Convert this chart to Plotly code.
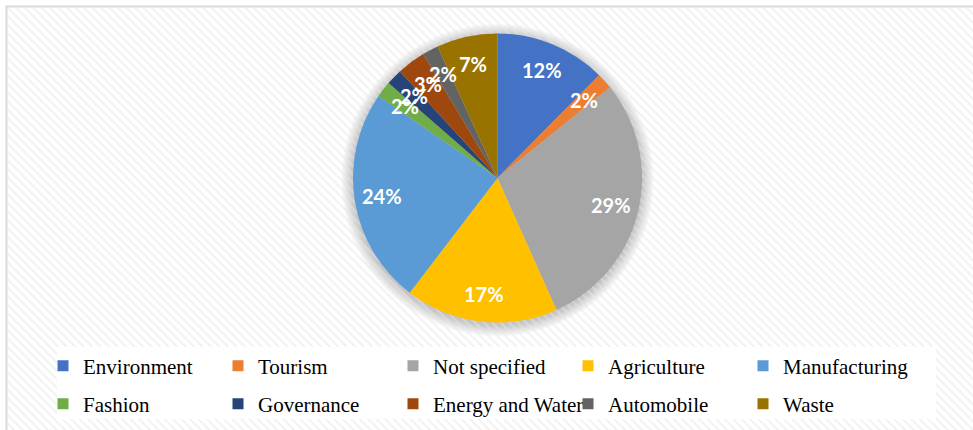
import math
import plotly.graph_objects as go

# ---- data ----
categories = ["Environment", "Tourism", "Not specified", "Agriculture", "Manufacturing",
              "Fashion", "Governance", "Energy and Water", "Automobile", "Waste"]
shares = [12.4, 1.8, 29.1, 17.1, 24.2, 1.8, 1.8, 3.2, 1.8, 6.8]
colors = ["#4472C4", "#ED7D31", "#A5A5A5", "#FFC000", "#5B9BD5",
          "#70AD47", "#264478", "#9E480E", "#636363", "#997300"]

W, H = 973, 430
CX, CY, R = 497.5, 178.0, 144.5   # pie centre / radius in px

fig = go.Figure()

# patterned chart-area background
fig.add_trace(go.Scatter(
    x=[8, W + 5, W + 5, 8, 8], y=[8, 8, H + 5, H + 5, 8],
    mode="lines", fill="toself", line=dict(width=0),
    fillcolor="rgba(0,0,0,0)",
    fillpattern=dict(shape="\\", fgcolor="#e6e6e6", size=6, solidity=0.35),
    hoverinfo="skip", showlegend=False))

# pie
fig.add_trace(go.Pie(
    labels=categories, values=shares, sort=False, direction="clockwise",
    rotation=0, marker=dict(colors=colors, line=dict(width=0)),
    textinfo="none", showlegend=False, hoverinfo="label+percent",
    domain=dict(x=[(CX - R) / W, (CX + R) / W], y=[1 - (CY + R) / H, 1 - (CY - R) / H])))

# legend entries (two rows -> two legends)
for i, (c, col) in enumerate(zip(categories, colors)):
    fig.add_trace(go.Scatter(
        x=[None], y=[None], mode="markers", name=c,
        marker=dict(symbol="square", size=11, color=col),
        legend="legend" if i < 5 else "legend2"))

# percentage labels
total = sum(shares)
cum = 0.0
annotations = []
for v in shares:
    mid = (cum + v / 2) / total * 2 * math.pi
    cum += v
    rr = 0.81 * R
    annotations.append(dict(
        x=CX + rr * math.sin(mid), y=CY - rr * math.cos(mid), xref="x", yref="y",
        text=f"{round(v / total * 100)}%", showarrow=False,
        font=dict(family="Lato", size=20, color="white", weight="bold")))

shapes = [
    dict(type="rect", xref="x", yref="y", x0=6.5, y0=6.5, x1=W + 20, y1=H + 20,
         line=dict(color="#d9d9d9", width=2), fillcolor="white", layer="below"),
]
for k in range(1, 13):
    shapes.append(dict(type="circle", xref="x", yref="y",
                       x0=CX - R - k, x1=CX + R + k, y0=CY + 2 - R - k, y1=CY + 2 + R + k,
                       line=dict(width=0), fillcolor="rgba(0,0,0,0.018)", layer="below"))
shapes.append(dict(type="rect", xref="x", yref="y", x0=57, y0=347, x1=936, y1=419,
                   line=dict(width=0), fillcolor="white", layer="above"))

legend_common = dict(orientation="h", xanchor="left", yanchor="middle",
                     bgcolor="rgba(0,0,0,0)", entrywidth=130, entrywidthmode="pixels",
                     font=dict(family="Liberation Serif", size=21, color="black"),
                     itemclick=False, itemdoubleclick=False)

fig.update_layout(
    width=W, height=H, autosize=False,
    margin=dict(l=0, r=0, t=0, b=0),
    paper_bgcolor="white", plot_bgcolor="rgba(0,0,0,0)",
    xaxis=dict(range=[0, W], visible=False, fixedrange=True, domain=[0, 1]),
    yaxis=dict(range=[H, 0], visible=False, fixedrange=True, domain=[0, 1]),
    legend=dict(x=43 / W, y=1 - 366 / H, **legend_common),
    legend2=dict(x=43 / W, y=1 - 404 / H, **legend_common),
    annotations=annotations, shapes=shapes,
)

fig.write_html("out.html")
